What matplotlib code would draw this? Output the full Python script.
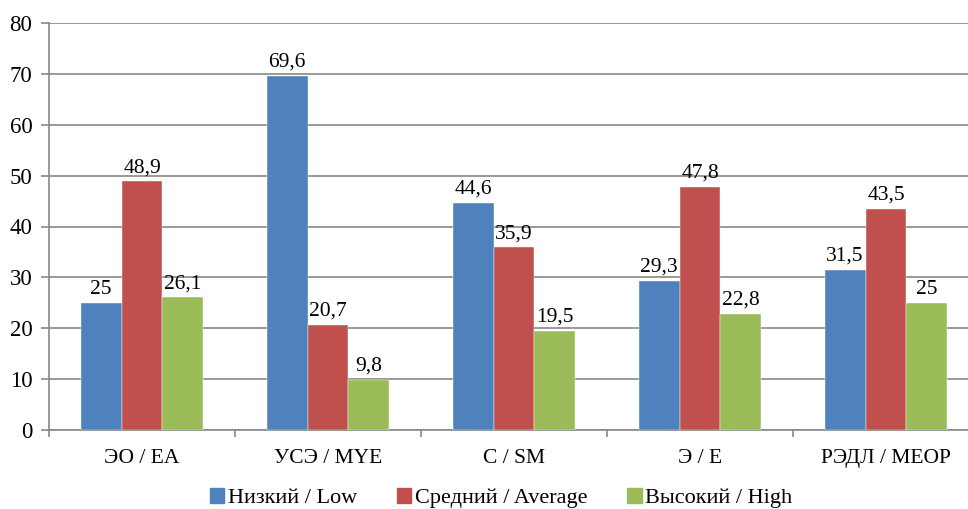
import numpy as np
import matplotlib.pyplot as plt
from matplotlib.patches import Patch

plt.rcParams['font.family'] = ['Liberation Serif', 'DejaVu Serif']

# данные
categories = ["ЭО / EA", "УСЭ / MYE", "С / SM", "Э / E", "РЭДЛ / MEOP"]
series_names = ["Низкий / Low", "Средний / Average", "Высокий / High"]
low = [25, 69.6, 44.6, 29.3, 31.5]
average = [48.9, 20.7, 35.9, 47.8, 43.5]
high = [26.1, 9.8, 19.5, 22.8, 25]
colors = ["#4F81BD", "#C0504D", "#9BBB59"]

def fmt(v):
    if float(v).is_integer():
        return str(int(v))
    return str(v).replace(".", ",")

fig = plt.figure(figsize=(9.68, 5.09), dpi=100)
ax = fig.add_axes([49/968, 1-430/509, 930/968, 407/509])

x = np.arange(len(categories))
w = 0.22
for i, (vals, name) in enumerate(zip([low, average, high], series_names)):
    bars = ax.bar(x + (i-1)*w, vals, w, color=colors[i], label=name, zorder=3,
                  edgecolor="white", linewidth=0.3)
    for b, v in zip(bars, vals):
        ax.annotate(fmt(v), (b.get_x() + b.get_width()/2, b.get_height()),
                    xytext=(0, 3), textcoords="offset points",
                    ha="center", va="bottom", fontsize=15.5)

ax.set_xlim(-0.5, len(categories)-0.5)
ax.set_ylim(0, 80)
ax.set_yticks(range(0, 81, 10))
ax.yaxis.grid(True, color="#878787", linewidth=1.2, zorder=0)
ax.set_xticks(x)
ax.set_xticklabels(categories)
ax.set_xticks(np.arange(-0.5, len(categories)), minor=True)
ax.tick_params(axis="x", which="major", length=0, pad=14, labelsize=15.5)
ax.tick_params(axis="x", which="minor", length=5, color="#878787", width=1.2)
ax.tick_params(axis="y", length=6, color="#878787", width=1.2, pad=6, labelsize=16.5)
for s in ["top", "right"]:
    ax.spines[s].set_visible(False)
for s in ["left", "bottom"]:
    ax.spines[s].set_color("#878787")
    ax.spines[s].set_linewidth(1.2)

handles = [Patch(color=c) for c in colors]
fig.legend(handles, series_names, loc="center", bbox_to_anchor=(501/968, 1-498/509),
           ncol=3, frameon=False, fontsize=16, handlelength=0.65, handleheight=0.65,
           handletextpad=0.15, columnspacing=1.8, borderaxespad=0)

fig.savefig("out.png", dpi=100)
